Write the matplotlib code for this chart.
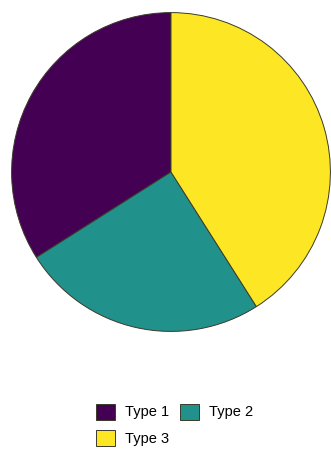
import matplotlib
matplotlib.use("Agg")
import matplotlib.pyplot as plt

labels = ["Type 1", "Type 2", "Type 3"]
values = [34, 25, 41]
colors = ["#440154", "#21918c", "#fde725"]

plt.rcParams['font.family'] = ['Liberation Sans', 'DejaVu Sans']

fig = plt.figure(figsize=(3.31, 4.5), dpi=100)
ax = fig.add_axes([10 / 331, 117 / 450, 322 / 331, 322 / 450])

wedges, _ = ax.pie(values, colors=colors, startangle=90, counterclock=True,
                   wedgeprops=dict(edgecolor="#3a3a2a", linewidth=0.7))
ax.set_xlim(-1.01, 1.01)
ax.set_ylim(-1.01, 1.01)
ax.set_aspect("equal")

# legend fills column by column, so reorder to read row by row
order = [0, 2, 1]
fig.legend([wedges[i] for i in order], [labels[i] for i in order],
           loc="center", bbox_to_anchor=(174.5 / 331, 1 - 425 / 450),
           ncol=2, frameon=False, fontsize=10.5, handlelength=1.3, handleheight=1.3,
           handletextpad=0.7, columnspacing=0.7, labelspacing=0.75)

fig.savefig("out.png", dpi=100)
